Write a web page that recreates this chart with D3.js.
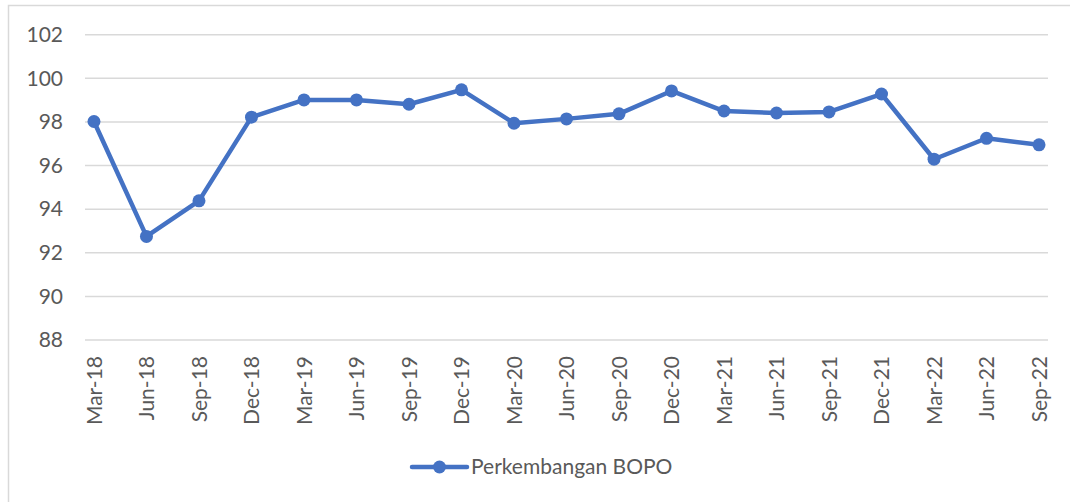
<!DOCTYPE html>
<html>
<head>
<meta charset="utf-8">
<script src="https://cdn.jsdelivr.net/npm/d3@7"></script>
<style>
  body { margin: 0; background: #fff; }
  svg { display: block; }
  text { font-family: Lato, "Open Sans", sans-serif; fill: #595959; }
</style>
</head>
<body>
<div id="chart"></div>
<script>
// quarterly BOPO values
const periods = ["Mar-18", "Jun-18", "Sep-18", "Dec-18", "Mar-19", "Jun-19", "Sep-19", "Dec-19",
  "Mar-20", "Jun-20", "Sep-20", "Dec-20", "Mar-21", "Jun-21", "Sep-21", "Dec-21",
  "Mar-22", "Jun-22", "Sep-22"];
const bopo = [98.02, 92.75, 94.38, 98.22, 99.01, 99.01, 98.81, 99.47,
  97.94, 98.14, 98.37, 99.42, 98.5, 98.41, 98.46, 99.28,
  96.29, 97.25, 96.95];
const yTicks = [88, 90, 92, 94, 96, 98, 100, 102];
const seriesName = "Perkembangan BOPO";

const width = 1070, height = 502;
const blue = "#4472C4";
const gridGrey = "#d9d9d9";

const svg = d3.select("#chart").append("svg")
  .attr("width", width)
  .attr("height", height);

// chart frame (runs off the bottom/right like the screenshot)
svg.append("rect")
  .attr("x", 8.5).attr("y", 5.5)
  .attr("width", 1080).attr("height", 520)
  .attr("fill", "#fff")
  .attr("stroke", gridGrey)
  .attr("stroke-width", 1.5);

const plot = { left: 85, right: 1048, top: 34.7, bottom: 340 };

const x = d3.scalePoint()
  .domain(periods)
  .range([plot.left, plot.right])
  .padding(0.171);

const y = d3.scaleLinear()
  .domain([88, 102])
  .range([plot.bottom, plot.top]);

// gridlines
svg.append("g")
  .selectAll("line")
  .data(yTicks)
  .join("line")
  .attr("x1", plot.left).attr("x2", plot.right)
  .attr("y1", d => y(d)).attr("y2", d => y(d))
  .attr("stroke", gridGrey)
  .attr("stroke-width", 1.5);

// y axis labels
const yAxis = svg.append("g")
  .attr("transform", "translate(" + (plot.left - 22) + ",0)")
  .call(d3.axisLeft(y).tickValues(yTicks).tickSize(0).tickPadding(0));
yAxis.select(".domain").remove();
yAxis.selectAll("text")
  .style("font-size", "21px")
  .attr("fill", "#595959");

// x axis labels, rotated
const xAxis = svg.append("g")
  .attr("transform", "translate(0," + plot.bottom + ")")
  .call(d3.axisBottom(x).tickSize(0).tickPadding(0));
xAxis.select(".domain").remove();
xAxis.selectAll("text")
  .style("font-size", "21px")
  .attr("fill", "#595959")
  .attr("text-anchor", "end")
  .attr("dy", "0.35em")
  .attr("transform", "translate(0,16) rotate(-90)");

// series line
const line = d3.line()
  .x((d, i) => x(periods[i]))
  .y(d => y(d));

svg.append("path")
  .datum(bopo)
  .attr("d", line)
  .attr("fill", "none")
  .attr("stroke", blue)
  .attr("stroke-width", 4.5)
  .attr("stroke-linejoin", "round")
  .attr("stroke-linecap", "round");

svg.append("g")
  .selectAll("circle")
  .data(bopo)
  .join("circle")
  .attr("cx", (d, i) => x(periods[i]))
  .attr("cy", d => y(d))
  .attr("r", 6.5)
  .attr("fill", blue);

// legend
const legend = svg.append("g").attr("transform", "translate(412,467)");
legend.append("line")
  .attr("x1", 0).attr("x2", 55)
  .attr("stroke", blue)
  .attr("stroke-width", 4.5)
  .attr("stroke-linecap", "round");
legend.append("circle")
  .attr("cx", 27.5).attr("r", 6.5)
  .attr("fill", blue);
legend.append("text")
  .attr("x", 59)
  .attr("dy", "0.35em")
  .style("font-size", "21px")
  .text(seriesName);
</script>
</body>
</html>
